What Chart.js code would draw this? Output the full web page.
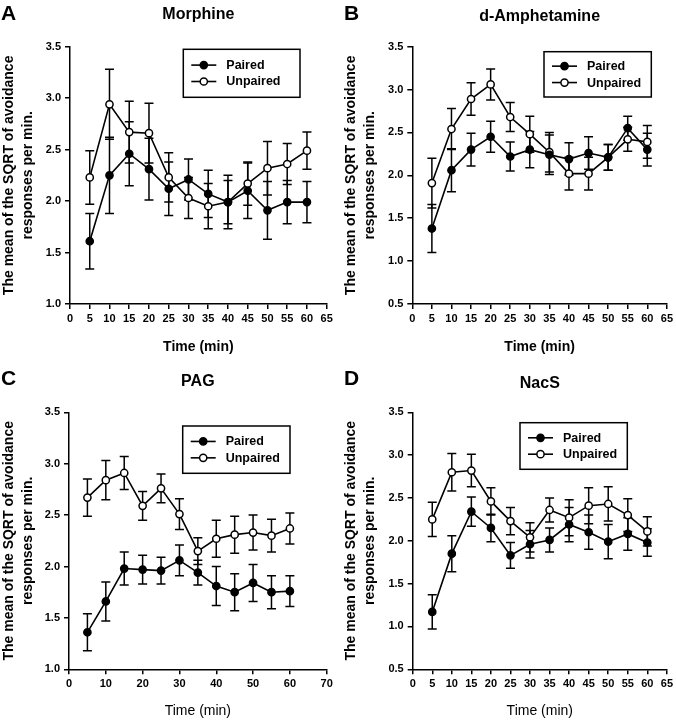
<!DOCTYPE html>
<html>
<head>
<meta charset="utf-8">
<script src="https://cdn.jsdelivr.net/npm/chart.js@4.4.0/dist/chart.umd.min.js"></script>
<style>
  body { margin: 0; background: #fff; }
  #wrap { position: relative; width: 676px; height: 720px; }
  canvas { position: absolute; }
</style>
</head>
<body>
<div id="wrap">
  <canvas id="chartA" width="338" height="360" style="left:0;top:0"></canvas>
  <canvas id="chartB" width="338" height="360" style="left:338px;top:0"></canvas>
  <canvas id="chartC" width="338" height="360" style="left:0;top:360px"></canvas>
  <canvas id="chartD" width="338" height="360" style="left:338px;top:360px"></canvas>
</div>
<script>
// time points (min)
const times = [5, 10, 15, 20, 25, 30, 35, 40, 45, 50, 55, 60];

// A - Morphine
const morphinePaired      = [1.61, 2.25, 2.46, 2.31, 2.12, 2.21, 2.07, 1.99, 2.10, 1.91, 1.99, 1.99];
const morphinePairedErr   = [0.27, 0.37, 0.31, 0.30, 0.26, 0.20, 0.23, 0.21, 0.27, 0.28, 0.21, 0.20];
const morphineUnpaired    = [2.23, 2.94, 2.67, 2.66, 2.23, 2.03, 1.95, 1.99, 2.17, 2.32, 2.36, 2.49];
const morphineUnpairedErr = [0.26, 0.34, 0.30, 0.29, 0.24, 0.20, 0.22, 0.26, 0.21, 0.26, 0.20, 0.18];

// B - d-Amphetamine
const amphPaired      = [1.38, 2.06, 2.30, 2.45, 2.22, 2.30, 2.24, 2.19, 2.26, 2.21, 2.55, 2.30];
const amphPairedErr   = [0.28, 0.25, 0.19, 0.18, 0.17, 0.21, 0.23, 0.19, 0.19, 0.15, 0.14, 0.19];
const amphUnpaired    = [1.91, 2.54, 2.89, 3.06, 2.68, 2.48, 2.27, 2.02, 2.02, 2.21, 2.42, 2.39];
const amphUnpairedErr = [0.29, 0.24, 0.19, 0.18, 0.17, 0.21, 0.23, 0.19, 0.19, 0.15, 0.14, 0.19];

// C - PAG
const pagPaired      = [1.36, 1.66, 1.98, 1.97, 1.96, 2.06, 1.94, 1.81, 1.75, 1.84, 1.75, 1.76];
const pagPairedErr   = [0.18, 0.19, 0.16, 0.14, 0.13, 0.15, 0.12, 0.19, 0.18, 0.18, 0.16, 0.15];
const pagUnpaired    = [2.67, 2.84, 2.91, 2.59, 2.76, 2.51, 2.15, 2.27, 2.31, 2.33, 2.30, 2.37];
const pagUnpairedErr = [0.18, 0.19, 0.16, 0.14, 0.14, 0.15, 0.13, 0.18, 0.18, 0.17, 0.16, 0.15];

// D - NacS
const nacsPaired      = [1.17, 1.85, 2.34, 2.15, 1.83, 1.96, 2.01, 2.19, 2.10, 1.99, 2.08, 1.98];
const nacsPairedErr   = [0.20, 0.21, 0.17, 0.16, 0.15, 0.16, 0.14, 0.20, 0.20, 0.20, 0.19, 0.16];
const nacsUnpaired    = [2.25, 2.80, 2.82, 2.46, 2.23, 2.04, 2.36, 2.27, 2.41, 2.43, 2.30, 2.11];
const nacsUnpairedErr = [0.20, 0.22, 0.19, 0.16, 0.16, 0.17, 0.14, 0.21, 0.21, 0.20, 0.19, 0.17];

const seriesNames = ["Paired", "Unpaired"];
const yTitle = ["The mean of the SQRT of avoidance", "responses per min."];
const xTitle = "Time (min)";

const FONT = "'Liberation Sans', Arial, Helvetica, sans-serif";
Chart.defaults.font.family = FONT;
Chart.defaults.color = "#000";

const pts = (vals) => vals.map((v, i) => ({ x: times[i], y: v }));

// vertical error bars, drawn under the markers
const errorBars = {
  id: "errorBars",
  beforeDatasetsDraw(chart) {
    const ctx = chart.ctx;
    const ys = chart.scales.y;
    ctx.save();
    ctx.strokeStyle = "#000";
    ctx.lineWidth = 1.5;
    chart.data.datasets.forEach((ds, i) => {
      const meta = chart.getDatasetMeta(i);
      meta.data.forEach((el, j) => {
        const v = ds.data[j].y, e = ds.errors[j];
        const top = ys.getPixelForValue(v + e);
        const bot = ys.getPixelForValue(v - e);
        ctx.beginPath();
        ctx.moveTo(el.x, top); ctx.lineTo(el.x, bot);
        ctx.moveTo(el.x - 4.5, top); ctx.lineTo(el.x + 4.5, top);
        ctx.moveTo(el.x - 4.5, bot); ctx.lineTo(el.x + 4.5, bot);
        ctx.stroke();
      });
    });
    ctx.restore();
  }
};

// boxed legend with line + marker samples, and the panel letter
const panelDecor = {
  id: "panelDecor",
  afterDraw(chart, args, opts) {
    const ctx = chart.ctx;
    const ca = chart.chartArea;
    ctx.save();
    // panel letter
    ctx.fillStyle = "#000";
    ctx.font = "bold 21px " + FONT;
    ctx.textBaseline = "alphabetic";
    ctx.textAlign = "left";
    ctx.fillText(opts.letter, opts.letterX, ca.top - 27);

    // legend box
    const bx = ca.left + opts.box.x, by = ca.top + opts.box.y;
    ctx.fillStyle = "#fff";
    ctx.fillRect(bx, by, opts.box.w, opts.box.h);
    ctx.strokeStyle = "#000";
    ctx.lineWidth = 1.5;
    ctx.strokeRect(bx, by, opts.box.w, opts.box.h);
    const cy = by + opts.box.h / 2;
    chart.data.datasets.forEach((ds, i) => {
      const y = cy + (i === 0 ? -8.2 : 8.2);
      const x0 = bx + 8;
      ctx.beginPath();
      ctx.moveTo(x0, y); ctx.lineTo(x0 + 25, y);
      ctx.lineWidth = 1.6;
      ctx.stroke();
      ctx.beginPath();
      ctx.arc(x0 + 12.5, y, 3.6, 0, Math.PI * 2);
      ctx.fillStyle = ds.pointBackgroundColor;
      ctx.fill();
      ctx.lineWidth = 1.5;
      ctx.stroke();
      ctx.fillStyle = "#000";
      ctx.font = "bold 12.5px " + FONT;
      ctx.textBaseline = "middle";
      ctx.fillText(ds.label, x0 + 35, y + 0.5);
    });
    ctx.restore();
  }
};

function makeChart(id, p) {
  const mk = (label, vals, errs, fill) => ({
    label: label,
    data: pts(vals),
    errors: errs,
    borderColor: "#000",
    backgroundColor: fill,
    pointBackgroundColor: fill,
    pointBorderColor: "#000",
    pointRadius: 3.6,
    pointHoverRadius: 3.6,
    pointBorderWidth: 1.5,
    borderWidth: 1.6,
    tension: 0,
    fill: false
  });
  return new Chart(document.getElementById(id), {
    type: "line",
    data: {
      datasets: [
        mk(seriesNames[0], p.paired, p.pairedErr, "#000"),
        mk(seriesNames[1], p.unpaired, p.unpairedErr, "#fff")
      ]
    },
    options: {
      responsive: false,
      animation: false,
      devicePixelRatio: 1,
      layout: { padding: { left: 0, right: p.padRight, top: 0, bottom: 0 } },
      plugins: {
        legend: { display: false },
        tooltip: { enabled: false },
        title: {
          display: true,
          text: p.title,
          fullSize: false,
          color: "#000",
          font: { size: 16, weight: "bold", lineHeight: 1.2 },
          padding: { top: p.titleTop, bottom: p.titleBottom }
        },
        panelDecor: { letter: p.letter, letterX: p.letterX, box: p.box }
      },
      scales: {
        x: {
          type: "linear",
          min: 0,
          max: p.xMax,
          ticks: {
            stepSize: p.xStep,
            autoSkip: false,
            maxRotation: 0,
            padding: 3,
            color: "#000",
            font: { size: 11, weight: "bold" }
          },
          grid: { drawOnChartArea: false, drawTicks: true, tickLength: 5, color: "#000", lineWidth: 1.5 },
          border: { color: "#000", width: 1.5 },
          title: {
            display: true,
            text: xTitle,
            color: "#000",
            font: { size: 14, weight: p.xBold ? "bold" : "normal", lineHeight: 1.2 },
            padding: { top: 0, bottom: p.xTitlePad }
          },
          afterFit: (s) => { s.height = p.xHeight; }
        },
        y: {
          min: p.yMin,
          max: 3.5,
          ticks: {
            stepSize: 0.5,
            padding: 4,
            color: "#000",
            font: { size: 11, weight: "bold" },
            callback: (v) => v.toFixed(1)
          },
          grid: { drawOnChartArea: false, drawTicks: true, tickLength: 5, color: "#000", lineWidth: 1.5 },
          border: { color: "#000", width: 1.5 },
          title: {
            display: true,
            text: yTitle,
            color: "#000",
            font: { size: 14, weight: "bold", lineHeight: 1.32 },
            padding: { top: p.yTitlePad, bottom: 0 }
          },
          afterFit: (s) => { s.width = p.yWidth; }
        }
      }
    },
    plugins: [errorBars, panelDecor]
  });
}

makeChart("chartA", {
  title: "Morphine", letter: "A", letterX: 1,
  paired: morphinePaired, pairedErr: morphinePairedErr,
  unpaired: morphineUnpaired, unpairedErr: morphineUnpairedErr,
  yMin: 1.0, xMax: 65, xStep: 5, xBold: true,
  yWidth: 70, padRight: 11.3, xHeight: 56, xTitlePad: 4.6,
  titleTop: 5.4, titleBottom: 22.1, yTitlePad: 0,
  box: { x: 113.3, y: 2.6, w: 116.7, h: 48 }
});

makeChart("chartB", {
  title: "d-Amphetamine", letter: "B", letterX: 6,
  paired: amphPaired, pairedErr: amphPairedErr,
  unpaired: amphUnpaired, unpairedErr: amphUnpairedErr,
  yMin: 0.5, xMax: 65, xStep: 5, xBold: true,
  yWidth: 74.3, padRight: 7, xHeight: 56, xTitlePad: 4.6,
  titleTop: 7.1, titleBottom: 20.4, yTitlePad: 4,
  box: { x: 131.7, y: 5, w: 107.3, h: 45.3 }
});

makeChart("chartC", {
  title: "PAG", letter: "C", letterX: 1,
  paired: pagPaired, pairedErr: pagPairedErr,
  unpaired: pagUnpaired, unpairedErr: pagUnpairedErr,
  yMin: 1.0, xMax: 70, xStep: 10, xBold: false,
  yWidth: 69, padRight: 11.3, xHeight: 50.7, xTitlePad: 0,
  titleTop: 12.1, titleBottom: 21, yTitlePad: 0,
  box: { x: 113.7, y: 13.7, w: 107.3, h: 47.3 }
});

makeChart("chartD", {
  title: "NacS", letter: "D", letterX: 6,
  paired: nacsPaired, pairedErr: nacsPairedErr,
  unpaired: nacsUnpaired, unpairedErr: nacsUnpairedErr,
  yMin: 0.5, xMax: 65, xStep: 5, xBold: false,
  yWidth: 74.7, padRight: 7, xHeight: 50.7, xTitlePad: 0,
  titleTop: 13.7, titleBottom: 19.4, yTitlePad: 4,
  box: { x: 107.3, y: 10.4, w: 107.3, h: 46.6 }
});
</script>
</body>
</html>
